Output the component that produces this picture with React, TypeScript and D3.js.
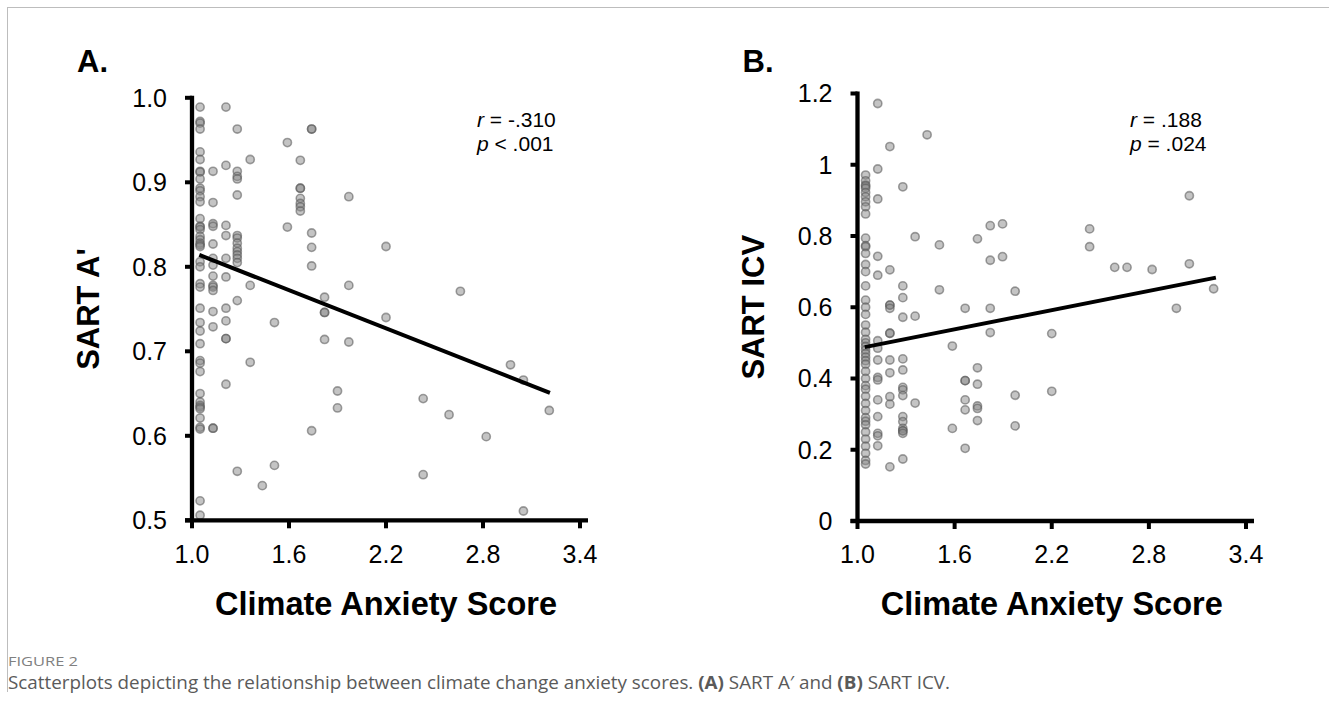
import React from "react";
import * as d3 from "d3";

// Panel A: climate anxiety score vs SART A'
const anxA = [
  1.05, 1.05, 1.05, 1.05, 1.05, 1.05, 1.05, 1.05, 1.05, 1.05, 1.05, 1.05, 1.05, 1.05, 1.05, 1.05, 1.05, 1.05,
  1.05, 1.05, 1.05, 1.05, 1.05, 1.05, 1.05, 1.05, 1.05, 1.05, 1.05, 1.05, 1.05, 1.05, 1.05, 1.05, 1.05, 1.05,
  1.05, 1.05, 1.05, 1.05, 1.05, 1.05, 1.05,
  1.13, 1.13, 1.13, 1.13, 1.13, 1.13, 1.13, 1.13, 1.13, 1.13, 1.13, 1.13, 1.13, 1.13, 1.13,
  1.21, 1.21, 1.21, 1.21, 1.21, 1.21, 1.21, 1.21, 1.21, 1.21, 1.21,
  1.28, 1.28, 1.28, 1.28, 1.28, 1.28, 1.28, 1.28, 1.28, 1.28, 1.28, 1.28, 1.28, 1.28, 1.28,
  1.36, 1.36, 1.36, 1.435, 1.51, 1.51, 1.59, 1.59,
  1.67, 1.67, 1.67, 1.67, 1.67, 1.67, 1.67,
  1.74, 1.74, 1.74, 1.74, 1.74, 1.74,
  1.82, 1.82, 1.82, 1.82, 1.9, 1.9, 1.97, 1.97, 1.97,
  2.2, 2.2, 2.43, 2.43, 2.59, 2.66, 2.82, 2.97, 3.05, 3.05, 3.21,
];
const sartA = [
  0.989, 0.972, 0.97, 0.963, 0.936, 0.927, 0.913, 0.912, 0.904, 0.893, 0.89, 0.883, 0.877, 0.857, 0.848, 0.847, 0.844, 0.836,
  0.832, 0.828, 0.826, 0.824, 0.806, 0.8, 0.78, 0.776, 0.751, 0.734, 0.724, 0.709, 0.689, 0.686, 0.676, 0.65, 0.64, 0.636,
  0.634, 0.632, 0.621, 0.61, 0.608, 0.523, 0.506,
  0.913, 0.876, 0.851, 0.848, 0.827, 0.81, 0.802, 0.789, 0.778, 0.776, 0.772, 0.747, 0.729, 0.609, 0.609,
  0.989, 0.92, 0.849, 0.837, 0.81, 0.788, 0.751, 0.736, 0.715, 0.715, 0.661,
  0.963, 0.913, 0.907, 0.904, 0.885, 0.837, 0.834, 0.828, 0.822, 0.818, 0.814, 0.81, 0.805, 0.76, 0.558,
  0.927, 0.778, 0.687, 0.541, 0.734, 0.565, 0.947, 0.847,
  0.926, 0.893, 0.893, 0.881, 0.875, 0.871, 0.866,
  0.963, 0.963, 0.84, 0.823, 0.801, 0.606,
  0.764, 0.746, 0.746, 0.714, 0.653, 0.633, 0.883, 0.778, 0.711,
  0.824, 0.74, 0.644, 0.554, 0.625, 0.771, 0.599, 0.684, 0.666, 0.511, 0.63,
];

// Panel B: climate anxiety score vs SART ICV
const anxB = [
  1.05, 1.05, 1.05, 1.05, 1.05, 1.05, 1.05, 1.05, 1.05, 1.05, 1.05, 1.05, 1.05, 1.05, 1.05, 1.05,
  1.05, 1.05, 1.05, 1.05, 1.05, 1.05, 1.05, 1.05, 1.05, 1.05, 1.05, 1.05, 1.05, 1.05, 1.05, 1.05,
  1.05, 1.05, 1.05, 1.05, 1.05, 1.05, 1.05, 1.05, 1.05, 1.05, 1.05, 1.05, 1.05, 1.05,
  1.125, 1.125, 1.125, 1.125, 1.125, 1.125, 1.125, 1.125, 1.125, 1.125, 1.125, 1.125, 1.125, 1.125, 1.125,
  1.2, 1.2, 1.2, 1.2, 1.2, 1.2, 1.2, 1.2, 1.2, 1.2, 1.2, 1.2,
  1.28, 1.28, 1.28, 1.28, 1.28, 1.28, 1.28, 1.28, 1.28, 1.28, 1.28, 1.28, 1.28, 1.28, 1.28, 1.28,
  1.356, 1.356, 1.356, 1.43, 1.506, 1.506, 1.586, 1.586,
  1.665, 1.665, 1.665, 1.665, 1.665, 1.665,
  1.741, 1.741, 1.741, 1.741, 1.741, 1.741,
  1.82, 1.82, 1.82, 1.82, 1.896, 1.896, 1.974, 1.974, 1.974,
  2.2, 2.2, 2.434, 2.434, 2.589, 2.665, 2.82, 2.97, 3.05, 3.05, 3.2,
];
const icvB = [
  0.971, 0.955, 0.943, 0.94, 0.934, 0.922, 0.91, 0.896, 0.882, 0.862, 0.794, 0.773, 0.77, 0.751, 0.72, 0.7,
  0.66, 0.62, 0.6, 0.58, 0.55, 0.53, 0.51, 0.5, 0.49, 0.48, 0.47, 0.46, 0.45, 0.44, 0.42, 0.4,
  0.38, 0.37, 0.35, 0.33, 0.31, 0.29, 0.28, 0.27, 0.25, 0.23, 0.21, 0.19, 0.17, 0.16,
  1.172, 0.988, 0.904, 0.743, 0.69, 0.506, 0.485, 0.452, 0.403, 0.396, 0.34, 0.293, 0.246, 0.239, 0.211,
  1.051, 0.705, 0.606, 0.606, 0.597, 0.527, 0.527, 0.452, 0.416, 0.349, 0.328, 0.152,
  0.938, 0.66, 0.627, 0.572, 0.455, 0.424, 0.375, 0.368, 0.352, 0.293, 0.279, 0.26, 0.253, 0.253, 0.246, 0.174,
  0.798, 0.575, 0.331, 1.084, 0.775, 0.649, 0.491, 0.26,
  0.597, 0.394, 0.394, 0.34, 0.312, 0.204,
  0.792, 0.43, 0.384, 0.323, 0.316, 0.282,
  0.829, 0.732, 0.597, 0.529, 0.834, 0.742, 0.645, 0.353, 0.267,
  0.526, 0.364, 0.82, 0.77, 0.712, 0.712, 0.706, 0.597, 0.913, 0.722, 0.652,
];

const xTicks = [1.0, 1.6, 2.2, 2.8, 3.4];
const xTickLabels = ["1.0", "1.6", "2.2", "2.8", "3.4"];
const yTicksA = [0.5, 0.6, 0.7, 0.8, 0.9, 1.0];
const yTickLabelsA = ["0.5", "0.6", "0.7", "0.8", "0.9", "1.0"];
const yTicksB = [0, 0.2, 0.4, 0.6, 0.8, 1.0, 1.2];
const yTickLabelsB = ["0", "0.2", "0.4", "0.6", "0.8", "1", "1.2"];

// fitted lines: [slope, intercept], fitted x-span
const fitA = [-0.0752, 0.8926];
const fitB = [0.09, 0.394];
const fitSpan = [1.045, 3.214];

const FONT = "'Liberation Sans', Arial, sans-serif";
const CAP_FONT = "'Open Sans', 'Noto Sans', sans-serif";

type PanelProps = {
  letter: string;
  xRange: [number, number];
  yRange: [number, number];
  yDomain: [number, number];
  yTicks: number[];
  yTickLabels: string[];
  yTitle: string;
  xs: number[];
  ys: number[];
  fit: number[];
  stat: [string, string, string, string];
  statX: number;
};

function Panel(p: PanelProps) {
  const x = d3.scaleLinear().domain([1.0, 3.4]).range(p.xRange);
  const y = d3.scaleLinear().domain(p.yDomain).range(p.yRange);
  const x0 = x(1.0);
  const yb = p.yRange[0];
  const yt = p.yRange[1];
  const line = d3
    .line<number>()
    .x((d) => x(d))
    .y((d) => y(p.fit[0] * d + p.fit[1]));
  const cx = (p.xRange[0] + p.xRange[1]) / 2;
  const cy = (yb + yt) / 2;
  return (
    <g fontFamily={FONT}>
      <text x={x0 - 115} y={72} fontSize={31} fontWeight="bold">
        {p.letter}
      </text>
      {p.xs.map((d, i) => (
        <circle
          key={i}
          cx={x(d)}
          cy={y(p.ys[i])}
          r={4.1}
          fill="#8a8a8a"
          fillOpacity={0.5}
          stroke="#555"
          strokeOpacity={0.55}
          strokeWidth={1.6}
        />
      ))}
      <path d={line(fitSpan) || ""} stroke="#000" strokeWidth={4} fill="none" />
      {/* axes */}
      <line x1={x0} x2={x0} y1={yt - 2} y2={yb} stroke="#000" strokeWidth={4.3} />
      <line x1={x0 - 7} x2={x(3.4) + 8} y1={yb} y2={yb} stroke="#000" strokeWidth={4.3} />
      {p.yTicks.map((t, i) => (
        <g key={"y" + i}>
          <line x1={x0 - 7} x2={x0} y1={y(t)} y2={y(t)} stroke="#000" strokeWidth={4} />
          <text x={x0 - 25} y={y(t)} dy="0.35em" textAnchor="end" fontSize={25}>
            {p.yTickLabels[i]}
          </text>
        </g>
      ))}
      {xTicks.map((t, i) => (
        <g key={"x" + i}>
          <line x1={x(t)} x2={x(t)} y1={yb} y2={yb + 8} stroke="#000" strokeWidth={4} />
          <text x={x(t)} y={563} textAnchor="middle" fontSize={25}>
            {xTickLabels[i]}
          </text>
        </g>
      ))}
      <text x={cx} y={615} textAnchor="middle" fontSize={32.5} fontWeight="bold">
        Climate Anxiety Score
      </text>
      <text
        transform={`translate(${x0 - 104},${cy}) rotate(-90)`}
        textAnchor="middle"
        dy="0.35em"
        fontSize={31}
        fontWeight="bold"
      >
        {p.yTitle}
      </text>
      <text x={p.statX} y={126.7} fontSize={21}>
        <tspan fontStyle="italic">{p.stat[0]}</tspan>
        {p.stat[1]}
      </text>
      <text x={p.statX} y={151} fontSize={21}>
        <tspan fontStyle="italic">{p.stat[2]}</tspan>
        {p.stat[3]}
      </text>
    </g>
  );
}

export default function App() {
  return (
    <svg
      width={1329}
      height={706}
      style={{ position: "absolute", left: 0, top: 0, background: "#fff" }}
    >
      <line x1={7} x2={1329} y1={7.5} y2={7.5} stroke="#bdbdbd" strokeWidth={1} />
      <line x1={7.5} x2={7.5} y1={7} y2={692} stroke="#bdbdbd" strokeWidth={1} />
      <Panel
        letter="A."
        xRange={[192, 580]}
        yRange={[520.3, 97.8]}
        yDomain={[0.5, 1.0]}
        yTicks={yTicksA}
        yTickLabels={yTickLabelsA}
        yTitle="SART A'"
        xs={anxA}
        ys={sartA}
        fit={fitA}
        stat={["r", " = -.310", "p", " < .001"]}
        statX={477}
      />
      <Panel
        letter="B."
        xRange={[857.5, 1246]}
        yRange={[521, 93.5]}
        yDomain={[0, 1.2]}
        yTicks={yTicksB}
        yTickLabels={yTickLabelsB}
        yTitle="SART ICV"
        xs={anxB}
        ys={icvB}
        fit={fitB}
        stat={["r", " = .188", "p", " = .024"]}
        statX={1130}
      />
      <text
        x={8}
        y={666}
        fontFamily={CAP_FONT}
        fontSize={13}
        fill="#808080"
        textLength={70}
        lengthAdjust="spacingAndGlyphs"
      >
        FIGURE 2
      </text>
      <text
        x={8}
        y={689}
        fontFamily={CAP_FONT}
        fontSize={17.5}
        fill="#5a5a5a"
        textLength={942}
        lengthAdjust="spacingAndGlyphs"
      >
        Scatterplots depicting the relationship between climate change anxiety scores.{" "}
        <tspan fontWeight="bold">(A)</tspan> SART A′ and <tspan fontWeight="bold">(B)</tspan> SART ICV.
      </text>
    </svg>
  );
}
